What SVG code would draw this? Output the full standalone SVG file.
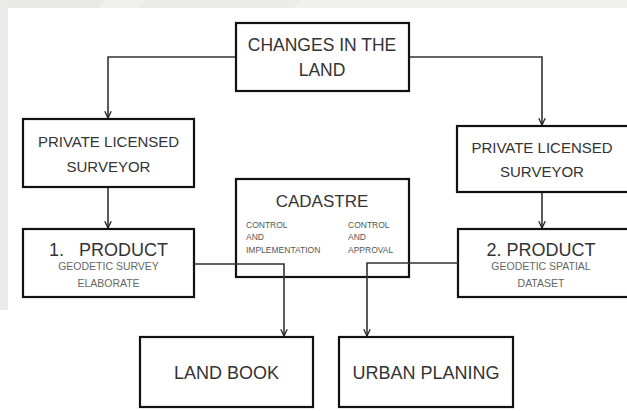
<svg xmlns="http://www.w3.org/2000/svg" width="627" height="411" viewBox="0 0 627 411">
<defs>
<marker id="arr" viewBox="0 0 10 10" refX="9.5" refY="5" markerWidth="8" markerHeight="8" markerUnits="userSpaceOnUse" orient="auto">
<path d="M1,1 L9.5,5 L1,9" fill="none" stroke="#222" stroke-width="1.6"/>
</marker>
</defs>
<style>
.box{fill:#fff;stroke:#111;stroke-width:2.2}
.t{font-family:"Liberation Sans",Arial,sans-serif;fill:#333;text-anchor:middle}
.big{font-size:18px}
.mid{font-size:15px}
.sub{font-size:10.5px;fill:#666}
.sm{font-family:"Liberation Sans",Arial,sans-serif;font-size:8.5px;fill:#555}
.c{fill:none;stroke:#333;stroke-width:1.6}
</style>
<rect x="0" y="0" width="627" height="411" fill="#fff"/>
<g id="background">
<rect x="0" y="0" width="627" height="8" fill="#f0f0ee"/>
<polygon points="0,0 105,0 98,8 0,8" fill="#e8e8e4"/>
<polygon points="145,0 300,0 293,8 138,8" fill="#ebebe7"/>
<rect x="0" y="0" width="8" height="310" fill="#ebebe8"/>
</g>
<g id="connectors">
<polyline class="c" points="236,57 108,57 108,118" marker-end="url(#arr)"/>
<polyline class="c" points="409,57 542,57 542,125" marker-end="url(#arr)"/>
<line class="c" x1="108" y1="188" x2="108" y2="228" marker-end="url(#arr)"/>
<line class="c" x1="542" y1="193" x2="542" y2="228" marker-end="url(#arr)"/>
</g>
<g id="changes">
<rect class="box" x="236" y="23" width="173" height="68"/>
<text class="t" x="322" y="51" style="font-size:17.5px">CHANGES IN THE</text>
<text class="t" x="322" y="76" style="font-size:17.5px">LAND</text>
</g>
<g id="pls-left">
<rect class="box" x="23" y="119" width="171" height="68"/>
<text class="t mid" x="108.5" y="147">PRIVATE LICENSED</text>
<text class="t mid" x="108.5" y="172">SURVEYOR</text>
</g>
<g id="pls-right">
<rect class="box" x="457" y="126" width="172" height="66"/>
<text class="t mid" x="542" y="153">PRIVATE LICENSED</text>
<text class="t mid" x="542" y="177">SURVEYOR</text>
</g>
<g id="cadastre">
<rect class="box" x="236" y="179" width="173" height="98"/>
<text class="t" x="322" y="207" style="font-size:17px">CADASTRE</text>
<text class="sm" x="246" y="228">CONTROL</text>
<text class="sm" x="246" y="240">AND</text>
<text class="sm" x="246" y="253">IMPLEMENTATION</text>
<text class="sm" x="348" y="228">CONTROL</text>
<text class="sm" x="348" y="240">AND</text>
<text class="sm" x="348" y="253">APPROVAL</text>
</g>
<g id="product1">
<rect class="box" x="23" y="229" width="171" height="68"/>
<text class="t big" x="108.5" y="256" xml:space="preserve">1.   PRODUCT</text>
<text class="t sub" x="108.5" y="270">GEODETIC SURVEY</text>
<text class="t sub" x="108.5" y="287">ELABORATE</text>
</g>
<g id="product2">
<rect class="box" x="458" y="229" width="171" height="68"/>
<text class="t big" x="541" y="256">2. PRODUCT</text>
<text class="t sub" x="541" y="270">GEODETIC SPATIAL</text>
<text class="t sub" x="541" y="287">DATASET</text>
</g>
<g id="connectors2">
<polyline class="c" points="194,264 284,264 284,336" marker-end="url(#arr)"/>
<polyline class="c" points="458,263 367,263 367,336" marker-end="url(#arr)"/>
</g>
<g id="landbook">
<rect class="box" x="140" y="337" width="173" height="70"/>
<text class="t big" x="226.5" y="379">LAND BOOK</text>
</g>
<g id="urban">
<rect class="box" x="339" y="337" width="174" height="70"/>
<text class="t big" x="426" y="379">URBAN PLANING</text>
</g>
</svg>
